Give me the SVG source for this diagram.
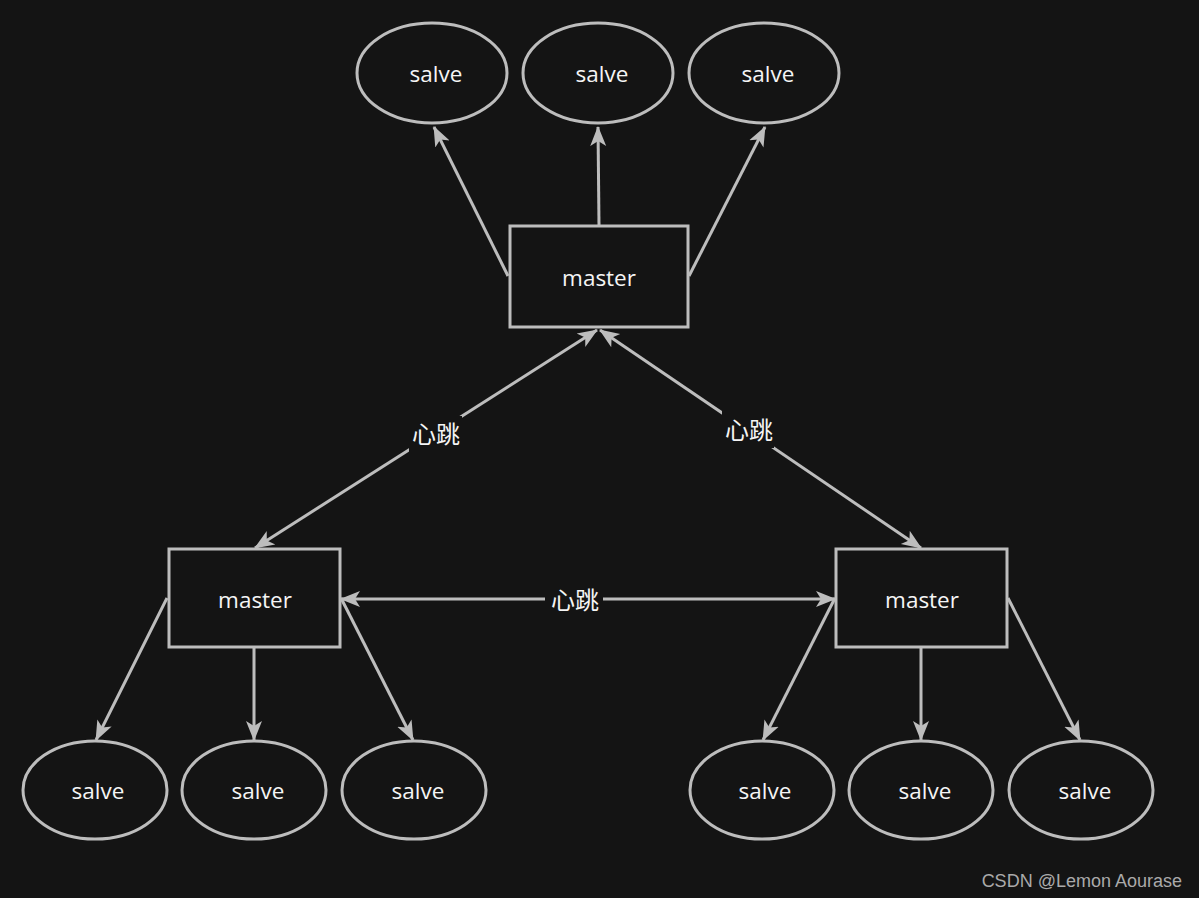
<svg xmlns="http://www.w3.org/2000/svg" width="1199" height="898" viewBox="0 0 1199 898">
<style>
.shape{fill:#141414;stroke:#bdbdbd;stroke-width:3}
.edge{fill:none;stroke:#bdbdbd;stroke-width:3}
.lbl{font-family:"Open Sans","Noto Sans",sans-serif;font-size:22.5px;fill:#f5f5f5;text-anchor:middle}
.cjk{font-family:"Noto Sans CJK SC",sans-serif;font-size:24px;fill:#f5f5f5;text-anchor:middle}
.bg{fill:#141414}
.wm{font-family:"Liberation Sans",Arial,sans-serif;font-size:18px;fill:#aaaaaa;text-anchor:end}
</style>
<defs>
<marker id="arr" viewBox="0 0 20 18" refX="19" refY="9" markerWidth="20" markerHeight="18" markerUnits="userSpaceOnUse" orient="auto-start-reverse">
<path d="M0,1 L20,9 L0,17 L5,9 Z" fill="#bdbdbd"/>
</marker>
</defs>
<rect width="1199" height="898" fill="#141414"/>
<g id="connectors">
<line class="edge" x1="508" y1="276" x2="434" y2="127" marker-end="url(#arr)"/>
<line class="edge" x1="599" y1="225" x2="598" y2="127" marker-end="url(#arr)"/>
<line class="edge" x1="689" y1="276" x2="765" y2="127" marker-end="url(#arr)"/>
<line class="edge" x1="255" y1="548" x2="597" y2="330" marker-start="url(#arr)" marker-end="url(#arr)"/>
<line class="edge" x1="600" y1="330" x2="921" y2="548" marker-start="url(#arr)" marker-end="url(#arr)"/>
<line class="edge" x1="341" y1="599" x2="835" y2="599" marker-start="url(#arr)" marker-end="url(#arr)"/>
<line class="edge" x1="167" y1="598" x2="96" y2="740" marker-end="url(#arr)"/>
<line class="edge" x1="254" y1="648" x2="254" y2="740" marker-end="url(#arr)"/>
<line class="edge" x1="341" y1="598" x2="413" y2="740" marker-end="url(#arr)"/>
<line class="edge" x1="835" y1="598" x2="763" y2="740" marker-end="url(#arr)"/>
<line class="edge" x1="921" y1="648" x2="921" y2="740" marker-end="url(#arr)"/>
<line class="edge" x1="1008" y1="598" x2="1080" y2="740" marker-end="url(#arr)"/>
<rect class="bg" x="409" y="416" width="53" height="36"/>
<text class="cjk" x="436" y="443">心跳</text>
<rect class="bg" x="722" y="411" width="52" height="37"/>
<text class="cjk" x="749" y="439">心跳</text>
<rect class="bg" x="545" y="584" width="58" height="32"/>
<text class="cjk" x="575" y="609">心跳</text>
</g>
<g id="master-top"><rect class="shape" x="510" y="226" width="178" height="101"/><text class="lbl" x="599" y="286">master</text></g>
<g id="master-left"><rect class="shape" x="169" y="549" width="171" height="98"/><text class="lbl" x="255" y="608">master</text></g>
<g id="master-right"><rect class="shape" x="836" y="549" width="171" height="98"/><text class="lbl" x="922" y="608">master</text></g>
<g id="salve-t1"><ellipse class="shape" cx="432" cy="73" rx="75" ry="50"/><text class="lbl" x="436" y="82">salve</text></g>
<g id="salve-t2"><ellipse class="shape" cx="598" cy="73" rx="75" ry="50"/><text class="lbl" x="602" y="82">salve</text></g>
<g id="salve-t3"><ellipse class="shape" cx="764" cy="73" rx="75" ry="50"/><text class="lbl" x="768" y="82">salve</text></g>
<g id="salve-l1"><ellipse class="shape" cx="95" cy="790" rx="72" ry="49"/><text class="lbl" x="98" y="799">salve</text></g>
<g id="salve-l2"><ellipse class="shape" cx="254" cy="790" rx="72" ry="49"/><text class="lbl" x="258" y="799">salve</text></g>
<g id="salve-l3"><ellipse class="shape" cx="414" cy="790" rx="72" ry="49"/><text class="lbl" x="418" y="799">salve</text></g>
<g id="salve-r1"><ellipse class="shape" cx="762" cy="790" rx="72" ry="49"/><text class="lbl" x="765" y="799">salve</text></g>
<g id="salve-r2"><ellipse class="shape" cx="921" cy="790" rx="72" ry="49"/><text class="lbl" x="925" y="799">salve</text></g>
<g id="salve-r3"><ellipse class="shape" cx="1081" cy="790" rx="72" ry="49"/><text class="lbl" x="1085" y="799">salve</text></g>
<text class="wm" x="1182" y="887">CSDN @Lemon Aourase</text>
</svg>
